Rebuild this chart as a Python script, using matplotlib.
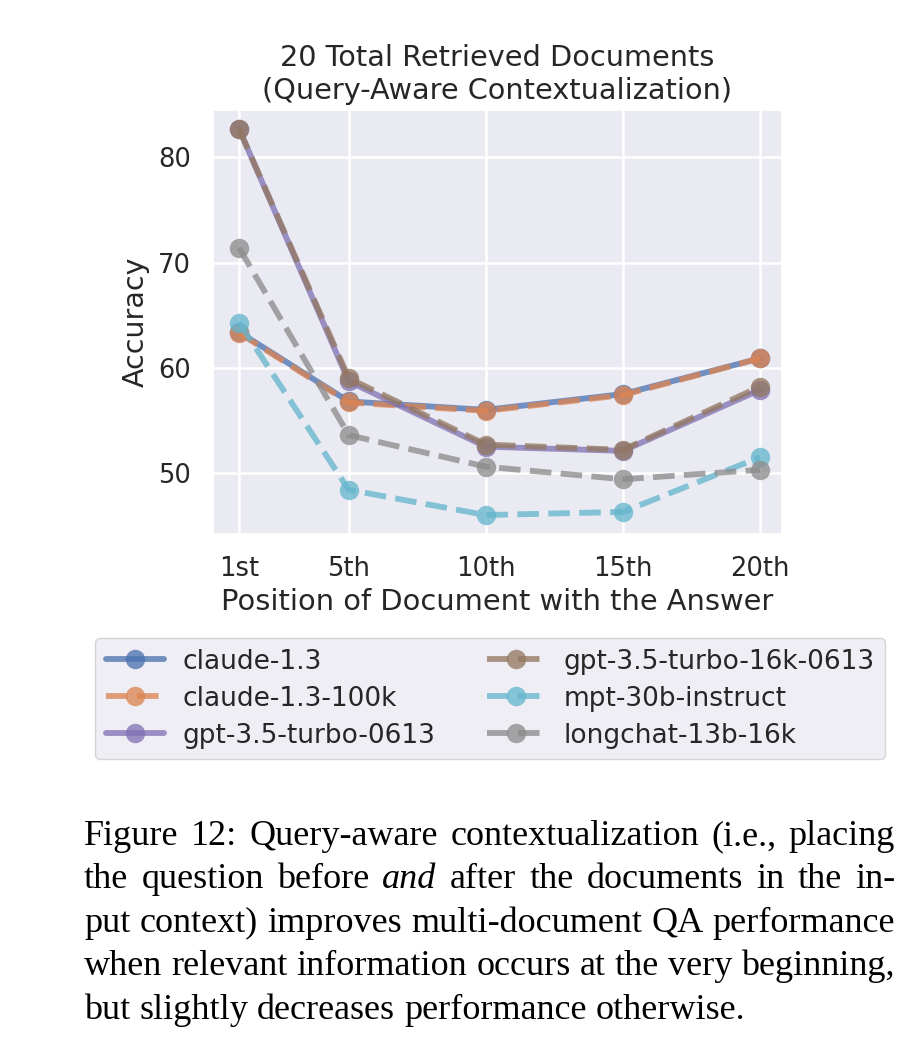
import matplotlib
matplotlib.use("Agg")
import matplotlib.pyplot as plt
import seaborn as sns

# accuracy vs. position of the answer document (20 docs, query-aware)
positions = [1, 5, 10, 15, 20]
tick_labels = ["1st", "5th", "10th", "15th", "20th"]

claude_13 = [63.4, 56.8, 56.0, 57.5, 60.9]
claude_13_100k = [63.3, 56.7, 55.9, 57.4, 60.9]
gpt35_0613 = [82.7, 58.7, 52.5, 52.1, 57.9]
gpt35_16k_0613 = [82.7, 59.0, 52.7, 52.2, 58.2]
mpt_30b_instruct = [64.3, 48.4, 46.0, 46.3, 51.5]
longchat_13b_16k = [71.4, 53.6, 50.6, 49.4, 50.3]

model_names = ["claude-1.3", "claude-1.3-100k", "gpt-3.5-turbo-0613",
               "gpt-3.5-turbo-16k-0613", "mpt-30b-instruct", "longchat-13b-16k"]

caption_lines = [
    [("Figure 12: Query-aware contextualization (i.e., placing", "normal")],
    [("the question before", "normal"), ("and", "italic"),
     ("after the documents in the in-", "normal")],
    [("put context) improves multi-document QA performance", "normal")],
    [("when relevant information occurs at the very beginning,", "normal")],
    [("but slightly decreases performance otherwise.", "normal")],
]

sns.set_theme(style="darkgrid")
pal = sns.color_palette("deep")

series = [claude_13, claude_13_100k, gpt35_0613, gpt35_16k_0613,
          mpt_30b_instruct, longchat_13b_16k]
colors = [pal[0], pal[1], pal[4], pal[5], pal[9], pal[7]]
styles = ["-", "--", "-", "--", "--", "--"]

W, H = 912, 1038
fig = plt.figure(figsize=(W / 100, H / 100), dpi=100)
fig.patch.set_facecolor("white")
ax = fig.add_axes([213 / W, 1 - 534 / H, 569 / W, 424 / H])

for y, c, ls, name in zip(series, colors, styles, model_names):
    ax.plot(positions, y, ls, color=c, lw=4.2, marker="o", ms=14,
            mew=0, alpha=0.77, label=name)

ax.set_xlim(0.05, 20.8)
ax.set_ylim(44.2, 84.5)
ax.set_xticks(positions)
ax.set_xticklabels(tick_labels)
ax.set_yticks([50, 60, 70, 80])
ax.tick_params(labelsize=18.5, pad=16, length=0)
ax.grid(True, color="white", lw=1.8)
ax.set_xlabel("Position of Document with the Answer", fontsize=20.8, labelpad=4)
ax.set_ylabel("Accuracy", fontsize=20.5, labelpad=6)
ax.set_title("20 Total Retrieved Documents\n(Query-Aware Contextualization)",
             fontsize=20.7, pad=8)

h, l = ax.get_legend_handles_labels()
leg = fig.legend(h, l, loc="upper left", ncol=2, mode="expand",
                 bbox_to_anchor=(95 / W, 1 - 765 / H, 790 / W, 127 / H),
                 borderaxespad=0, fontsize=19, handlelength=2.2,
                 handletextpad=0.7, labelspacing=0.42, columnspacing=1.0,
                 framealpha=0.8, edgecolor="0.8")

# caption below the chart, justified like the paper text
cap_font = "Liberation Serif"
cap_size = 26
x0, x1 = 84, 895
base0, pitch = 845, 43.4
r = fig.canvas.get_renderer()
for i, line in enumerate(caption_lines):
    yb = 1 - (base0 + i * pitch) / H
    words = []
    for chunk, st in line:
        for w in chunk.split(" "):
            t = fig.text(0, yb, w, fontsize=cap_size, family=cap_font,
                         style=st, va="baseline", ha="left", color="black")
            words.append(t)
    widths = [t.get_window_extent(r).width for t in words]
    last = i == len(caption_lines) - 1
    if last:
        gap = fig.text(0, 0, "a b", fontsize=cap_size, family=cap_font)
        ab = gap.get_window_extent(r).width
        gap.set_text("ab")
        gap_w = ab - gap.get_window_extent(r).width
        gap.remove()
    else:
        gap_w = (x1 - x0 - sum(widths)) / (len(words) - 1)
    x = x0
    for t, w in zip(words, widths):
        t.set_x(x / W)
        x += w + gap_w

fig.savefig("out.png", dpi=100)
